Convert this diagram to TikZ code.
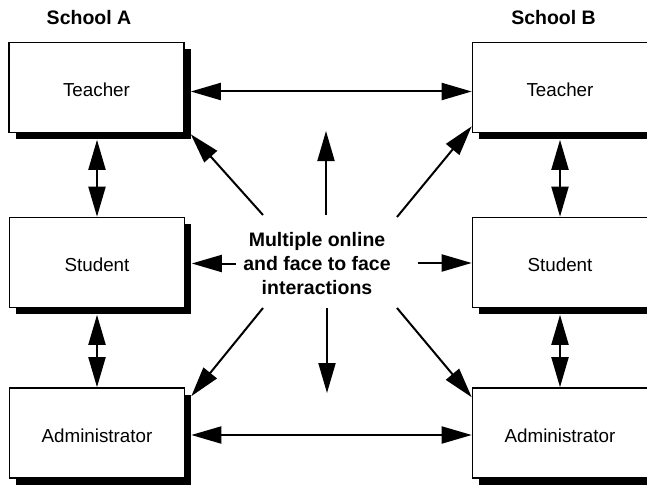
\documentclass[tikz,border=0pt]{standalone}
\usepackage{fontspec}
\setmainfont{Liberation Sans}
\usetikzlibrary{arrows.meta,shadows}
\begin{document}
\begin{tikzpicture}[x=1pt,y=-1pt,
  box/.style={draw, line width=1.6pt, fill=white, minimum width=175pt,
    minimum height=90pt, inner sep=0pt,
    font=\fontsize{18.8}{22}\selectfont, text height=18pt, text depth=0pt,
    drop shadow={shadow xshift=6.5pt, shadow yshift=-6.5pt, fill=black, opacity=1}},
  tip/.tip={Triangle[length=30pt,width=17pt]},
  link/.style={line width=2pt, -tip},
  both/.style={line width=2pt, tip-tip},
  head/.style={font=\bfseries\fontsize{19.5}{22}\selectfont, anchor=base, inner sep=0pt}
]
\useasboundingbox (0,0) rectangle (647,484);
\clip (0,0) rectangle (647,484);

% column headings
\node[head] (hA) at (89,25) {School A};
\node[head] (hB) at (553.5,25) {School B};

% school A
\node[box] (T1) at (96.5,87.5) {Teacher};
\node[box] (S1) at (97,262.5) {Student};
\node[box] (A1) at (97,433) {Administrator};

% school B
\node[box] (T2) at (560,87.5) {Teacher};
\node[box] (S2) at (560,262.5) {Student};
\node[box] (A2) at (560,433) {Administrator};

% central hub text
\node[font=\bfseries\fontsize{19.5}{23.6}\selectfont, align=center, inner sep=0pt]
  (C) at (317,263.5) {Multiple online\\and face to face\\interactions};

% links between the two schools
\draw[both] ([shift={(6,4)}]T1.east) -- ([shift={(0,4)}]T2.west);
\draw[both] ([shift={(6,2)}]A1.east) -- ([shift={(0,2)}]A2.west);

% links within each school
\draw[both] ([shift={(0.5,6.5)}]T1.south) -- (S1.north);
\draw[both] ([shift={(0,6.5)}]S1.south) -- (A1.north);
\draw[both] ([shift={(0,6.5)}]T2.south) -- (S2.north);
\draw[both] ([shift={(0,6.5)}]S2.south) -- (A2.north);

% rays from the hub
\coordinate (rUL) at (263,215);
\coordinate (rU)  at (326,215);
\coordinate (rUR) at (397,217);
\coordinate (rL)  at (236,263.5);
\coordinate (rR)  at (418,263);
\coordinate (rDL) at (263,308);
\coordinate (rD)  at (327,308);
\coordinate (rDR) at (397,308);
\coordinate (pU)  at (326,131);
\coordinate (pD)  at (327,393);

\draw[link] (rUL) -- ([shift={(6,1)}]T1.south east);
\draw[link] (rUR) -- ([shift={(0,-7)}]T2.south west);
\draw[link] (rU) -- (pU);
\draw[link] (rD) -- (pD);
\draw[link] (rL) -- ([shift={(6.5,1)}]S1.east);
\draw[link] (rR) -- ([shift={(0,0.5)}]S2.west);
\draw[link] (rDL) -- ([shift={(6,9)}]A1.north east);
\draw[link] (rDR) -- ([shift={(0,10)}]A2.north west);
\end{tikzpicture}
\end{document}
